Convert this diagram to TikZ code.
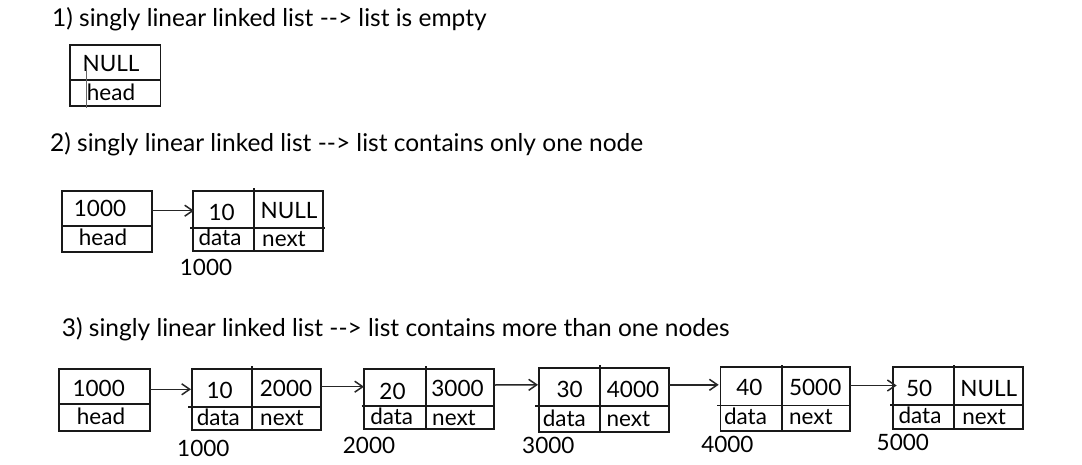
\documentclass[tikz,border=0pt]{standalone}
\usepackage{fontspec}
\setmainfont{Lato}
\usetikzlibrary{arrows.meta}
\begin{document}
\begin{tikzpicture}[x=1pt,y=-1pt,
  frame/.style={draw=black!90, line width=1.9pt},
  sep/.style={draw=black!90, line width=1.7pt},
  arr/.style={draw=black!85, line width=1.5pt, -{Straight Barb[length=8pt,width=11pt,line width=1.5pt]}},
  txt/.style={anchor=base, inner sep=0pt, font=\fontsize{22.5}{26}\selectfont},
  ttl/.style={anchor=base west, inner sep=0pt, font=\fontsize{24.5}{28}\selectfont}]
\useasboundingbox[fill=white] (0,0) rectangle (1082,464);

% ---------- 1) empty list
\node[ttl] (t1) at (52,26) {1) singly linear linked list -{}-> list is empty};
\draw[frame] (70,45) rectangle (160.5,106);
\draw[sep] (70,80) -- (160.5,80);
\node[txt] (null1) at (111,71.7) {NULL};
\node[txt] (head1) at (111,100) {head};
\draw[line width=0.8pt, black!60] (86,65) -- (86,108);

% ---------- 2) one node
\node[ttl] (t2) at (50,151) {2) singly linear linked list -{}-> list contains only one node};
\draw[frame] (61.7,190.7) rectangle (151.7,251.7);
\draw[sep] (61.7,225.7) -- (151.7,225.7);
\node[txt] (h2v) at (100,216) {1000};
\node[txt] (h2l) at (103,245) {head};
\draw[frame] (193.3,190.7) rectangle (323.3,250.7);
\draw[sep] (254.3,188) -- (254.3,250.7);
\draw[sep] (190,227.7) -- (325,227.7);
\node[txt] (n2d) at (221.7,220) {10};
\node[txt] (n2n) at (289,218.3) {NULL};
\node[txt] (n2dl) at (220,245.7) {data};
\node[txt] (n2nl) at (284,246.2) {next};
\node[txt] (n2a) at (206,275) {1000};
\coordinate (p2a) at (151,210.7);
\coordinate (p2b) at (194,210.7);
\draw[arr] (p2a) -- (p2b);

% ---------- 3) many nodes
\node[ttl] (t3) at (61.7,336) {3) singly linear linked list -{}-> list contains more than one nodes};
% head
\draw[frame] (59.3,369.3) rectangle (150,430.7);
\draw[sep] (59.3,404) -- (150,404);
\node[txt] (h3v) at (98.7,396) {1000};
\node[txt] (h3l) at (101,424.3) {head};
% node 1
\draw[frame] (191.7,369.3) rectangle (321,430);
\draw[sep] (252.3,366) -- (252.3,430);
\draw[sep] (188,406.7) -- (321,406.7);
\node[txt] (a1d) at (219.7,398.3) {10};
\node[txt] (a1n) at (286,396) {2000};
\node[txt] (a1dl) at (218.3,425) {data};
\node[txt] (a1nl) at (282,425) {next};
\node[txt] (a1a) at (203.3,456.7) {1000};
% node 2
\draw[frame] (364.3,369.3) rectangle (494,429.3);
\draw[sep] (425.7,366) -- (425.7,429.3);
\draw[sep] (361.7,406) -- (495,406);
\node[txt] (a2d) at (392.5,399.3) {20};
\node[txt] (a2n) at (457.5,396) {3000};
\node[txt] (a2dl) at (391.7,424) {data};
\node[txt] (a2nl) at (454,425.7) {next};
\node[txt] (a2a) at (369,453.3) {2000};
% node 3
\draw[frame] (538.6,367.6) rectangle (668.8,431.6);
\draw[sep] (599.9,365) -- (599.9,431.6);
\draw[sep] (535.1,405.8) -- (668.8,405.8);
\node[txt] (a3d) at (569.7,397.2) {30};
\node[txt] (a3n) at (633,397.2) {4000};
\node[txt] (a3dl) at (564.3,426.1) {data};
\node[txt] (a3nl) at (628.3,426) {next};
\node[txt] (a3a) at (548.3,453.7) {3000};
% node 4
\draw[frame] (720.5,366.9) rectangle (849.6,430.6);
\draw[sep] (781.8,365) -- (781.8,430.6);
\draw[sep] (717,405.5) -- (849.6,405.5);
\node[txt] (a4d) at (749.4,395.5) {40};
\node[txt] (a4n) at (815.2,395.5) {5000};
\node[txt] (a4dl) at (745.5,424.8) {data};
\node[txt] (a4nl) at (810.9,424.8) {next};
\node[txt] (a4a) at (727.4,452.3) {4000};
% node 5
\draw[frame] (892.7,367.3) rectangle (1023.3,429);
\draw[sep] (954.3,365) -- (954.3,429);
\draw[sep] (890,405) -- (1023.3,405);
\node[txt] (a5d) at (919.2,396) {50};
\node[txt] (a5n) at (988.8,396.7) {NULL};
\node[txt] (a5dl) at (920,423.3) {data};
\node[txt] (a5nl) at (984.2,424) {next};
\node[txt] (a5a) at (902.8,450) {5000};
% pointers
\coordinate (q0a) at (150,389.3);   \coordinate (q0b) at (191,389.3);
\coordinate (q1a) at (321,386.7);   \coordinate (q1b) at (364,386.7);
\coordinate (q2a) at (494,385);     \coordinate (q2b) at (538,384.8);
\coordinate (q3a) at (668.8,384.8); \coordinate (q3b) at (718.7,384.8);
\coordinate (q4a) at (849.6,385.5); \coordinate (q4b) at (896.7,385.5);
\draw[arr] (q0a) -- (q0b);
\draw[arr] (q1a) -- (q1b);
\draw[arr] (q2a) -- (q2b);
\draw[arr] (q3a) -- (q3b);
\draw[arr] (q4a) -- (q4b);
\end{tikzpicture}
\end{document}
